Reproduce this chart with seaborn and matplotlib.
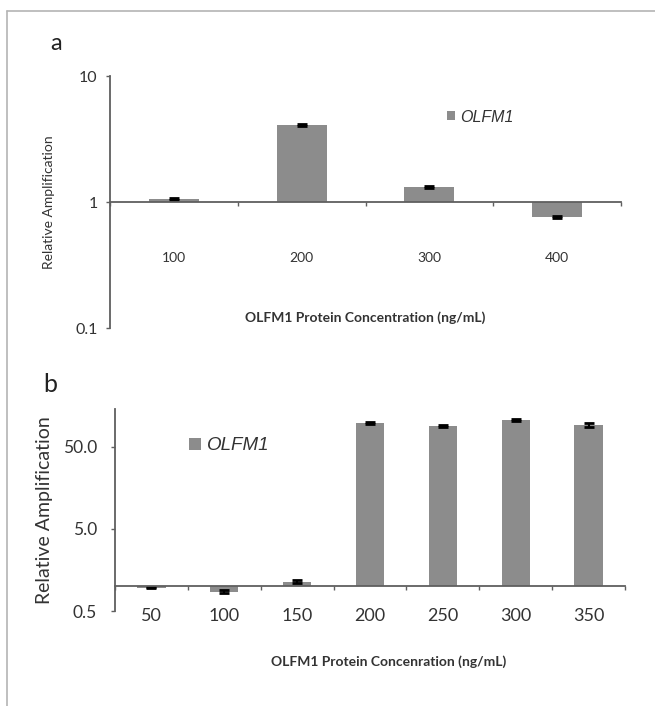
import numpy as np
import pandas as pd
import matplotlib
matplotlib.use("Agg")
import matplotlib.pyplot as plt
from matplotlib.lines import Line2D
from matplotlib.ticker import NullLocator
from matplotlib.font_manager import FontProperties
import seaborn as sns

# Panel a data
conc_a = ["100", "200", "300", "400"]
amp_a = [1.06, 4.08, 1.32, 0.76]
err_a = [0.02, 0.08, 0.03, 0.02]
yticks_a = [0.1, 1, 10]
yticklabels_a = ["0.1", "1", "10"]

# Panel b data
conc_b = ["50", "100", "150", "200", "250", "300", "350"]
amp_b = [0.96, 0.86, 1.14, 97, 89, 106, 92]
err_b = [0.02, 0.03, 0.04, 3, 2, 2, 4]
yticks_b = [0.5, 5, 50]
yticklabels_b = ["0.5", "5.0", "50.0"]

sns.set_theme(style="ticks")
plt.rcParams['font.family'] = ['Lato', 'DejaVu Sans']

BAR = "#8c8c8c"
AXC = "#5f5f5f"
TXT = "#333333"

fig = plt.figure(figsize=(6.55, 7.06), dpi=100)
ax_a = fig.add_axes([110 / 655, 1 - 328 / 706, 511 / 655, 252 / 706])
ax_b = fig.add_axes([115 / 655, 1 - 611 / 706, 510 / 655, 202 / 706])


def draw_panel(ax, conc, amp, err, yticks, yticklabels, ylim, sizes):
    # bars hang from the baseline at 1 (up or down)
    df = pd.DataFrame({"conc": conc, "height": np.array(amp) - 1})
    sns.barplot(data=df, x="conc", y="height", bottom=1, color=BAR, width=0.39,
                saturation=1, errorbar=None, label="OLFM1", ax=ax,
                linewidth=0)
    ax.errorbar(np.arange(len(conc)), amp, yerr=err, fmt="none", ecolor="black",
                elinewidth=1.5, capsize=3.5, capthick=2)
    ax.set_yscale("log")
    ax.set_ylim(*ylim)
    ax.set_yticks(yticks, labels=yticklabels)
    ax.yaxis.set_minor_locator(NullLocator())
    ax.set_xticks(np.arange(len(conc) + 1) - 0.5, minor=True)
    ax.set_xlim(-0.5, len(conc) - 0.5)

    for s in ["top", "right"]:
        ax.spines[s].set_visible(False)
    ax.spines["bottom"].set_position(("data", 1))
    for s in ["left", "bottom"]:
        ax.spines[s].set_color(AXC)
        ax.spines[s].set_linewidth(1.3)

    ax.tick_params(axis="x", which="major", length=0, pad=sizes["xpad"],
                   labelsize=sizes["xtick"], labelcolor=TXT)
    ax.tick_params(axis="x", which="minor", length=3, width=1, color=AXC,
                   direction="out")
    ax.tick_params(axis="y", which="major", length=3, width=1, color=AXC,
                   pad=sizes["ypad"], labelsize=sizes["ytick"], labelcolor=TXT)


draw_panel(ax_a, conc_a, amp_a, err_a, yticks_a, yticklabels_a, (0.1, 10),
           dict(xpad=36, ypad=6, xtick=10, ytick=11.5))
draw_panel(ax_b, conc_b, amp_b, err_b, yticks_b, yticklabels_b, (0.5, 144),
           dict(xpad=16, ypad=10, xtick=13, ytick=12.5))

# axis labels
ax_a.set_xlabel("OLFM1 Protein Concentration (ng/mL)", fontsize=10,
                fontweight="bold", color=TXT)
ax_a.xaxis.set_label_coords(0.5, 0.065)
ax_a.set_ylabel("Relative Amplification", fontsize=10, color=TXT)
ax_a.yaxis.set_label_coords(-0.108, 0.5)

ax_b.set_xlabel("OLFM1 Protein Concenration (ng/mL)", fontsize=10,
                fontweight="bold", color=TXT)
ax_b.xaxis.set_label_coords(0.537, -0.22)
ax_b.set_ylabel("Relative Amplification", fontsize=14, color=TXT)
ax_b.yaxis.set_label_coords(-0.122, 0.5)

# legends
ax_a.legend(loc="center left", bbox_to_anchor=(0.66, 0.837), frameon=False,
            prop=FontProperties(family="Liberation Sans", style="italic", size=11.5),
            handlelength=0.5, handleheight=0.5, handletextpad=0.3,
            borderpad=0, borderaxespad=0, labelcolor=TXT)
ax_b.legend(loc="center left", bbox_to_anchor=(0.145, 0.817), frameon=False,
            prop=FontProperties(family="Liberation Sans", style="italic", size=13.5),
            handlelength=0.65, handleheight=0.65, handletextpad=0.3,
            borderpad=0, borderaxespad=0, labelcolor=TXT)

# panel letters
fig.text(56 / 655, 1 - 44 / 706, "a", fontsize=17, ha="center", va="center", color="#222222")
fig.text(50 / 655, 1 - 384 / 706, "b", fontsize=18, ha="center", va="center", color="#222222")

# light frame at top and left edge
fig.add_artist(Line2D([7 / 655, 1], [1 - 11 / 706] * 2, transform=fig.transFigure,
                      color="#b4b4b4", lw=1.2))
fig.add_artist(Line2D([7 / 655] * 2, [0, 1 - 11 / 706], transform=fig.transFigure,
                      color="#b4b4b4", lw=1.2))

fig.savefig("out.png", dpi=100)
